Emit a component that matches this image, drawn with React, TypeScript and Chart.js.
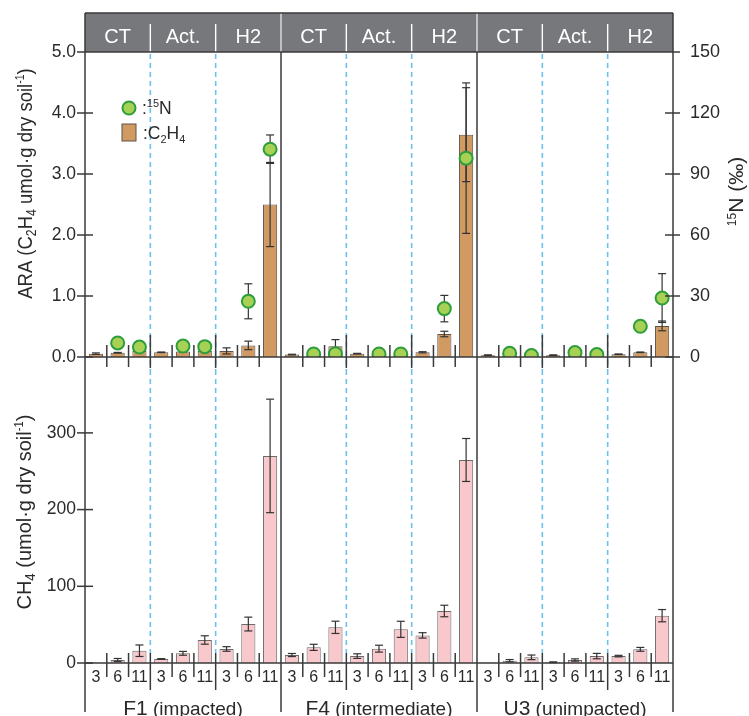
import React, { useEffect, useRef } from 'react';
import { Chart, registerables } from 'chart.js';

Chart.register(...registerables);

const FONT = '"Liberation Sans", Arial, Helvetica, sans-serif';

const sites = ['F1', 'F4', 'U3'];
const siteNotes = ['(impacted)', '(intermediate)', '(unimpacted)'];
const treatments = ['CT', 'Act.', 'H2'];
const weeks = ['3', '6', '11'];

const categories = sites.flatMap((s) => treatments.flatMap((t) => weeks.map((w) => `${s} ${t} ${w}`)));

// ARA (C2H4, umol/g dry soil) – bars, top panel, left axis
const araC2H4 = [
  0.055, 0.07, 0.1, 0.077, 0.09, 0.1, 0.1, 0.19, 2.5,
  0.04, 0.03, 0.175, 0.055, 0.03, 0.03, 0.077, 0.377, 3.645,
  0.03, 0.02, 0.02, 0.03, 0.02, 0.02, 0.045, 0.077, 0.51,
];
const araErr = [
  0.012, 0.005, 0.01, 0.005, 0.01, 0.01, 0.05, 0.07, 0.69,
  0.005, 0, 0.11, 0.005, 0, 0, 0.01, 0.045, 0.77,
  0.005, 0, 0, 0.005, 0, 0, 0.005, 0.005, 0.08,
];
// 15N (per mil) – points, top panel, right axis
const n15: (number | null)[] = [
  null, 6.9, 4.9, null, 5.4, 5.1, null, 27.4, 102.2,
  null, 1.5, 1.6, null, 1.5, 1.5, null, 23.8, 97.8,
  null, 1.8, 0.7, null, 2.2, 1.2, null, 15.1, 29.0,
];
const n15Err = [
  0, 0, 0, 0, 0, 0, 0, 8.6, 7,
  0, 0, 0, 0, 0, 0, 0, 6.5, 37,
  0, 0, 0, 0, 0, 0, 0, 0, 12,
];
// CH4 (umol/g dry soil) – bars, bottom panel
const ch4 = [
  0.3, 3.9, 16, 5.2, 12.6, 30, 18.3, 50.8, 270,
  10.4, 20.4, 46.5, 9, 18.7, 43.9, 36, 67.8, 264.7,
  0.5, 3, 7.4, 1, 3.9, 9, 9, 17.8, 61.7,
];
const ch4Err = [
  0, 2, 7.5, 0.5, 2.5, 5.5, 3, 9, 74,
  2, 4, 8, 3, 4.5, 10.5, 3.5, 7.5, 28,
  0, 1.5, 3, 0.5, 1.5, 3.5, 1, 2.5, 8,
];
const araTicks = [0, 1, 2, 3, 4, 5];
const n15Ticks = [0, 30, 60, 90, 120, 150];
const ch4Ticks = [0, 100, 200, 300];

const DARK = '#3a3a3a';
const DASH = '#6cc0ec';
const TAN = '#d09a62';
const TAN_BORDER = '#5e5248';
const PINK = '#f8c8cc';
const PINK_BORDER = '#6a6a6a';
const PT_FILL = '#a6d155';
const PT_BORDER = '#2e9e3c';
const HEADER = '#77787b';

type Seg = { t: string; size: number; dy?: number; weight?: string };

function drawRich(ctx: CanvasRenderingContext2D, segs: Seg[], x: number, y: number, align: 'left' | 'center') {
  const widths = segs.map((s) => {
    ctx.font = `${s.weight || 'normal'} ${s.size}px ${FONT}`;
    return ctx.measureText(s.t).width;
  });
  const total = widths.reduce((a, b) => a + b, 0);
  let cx = align === 'center' ? x - total / 2 : x;
  ctx.textAlign = 'left';
  ctx.textBaseline = 'alphabetic';
  segs.forEach((s, i) => {
    ctx.font = `${s.weight || 'normal'} ${s.size}px ${FONT}`;
    ctx.fillText(s.t, cx, y + (s.dy || 0));
    cx += widths[i];
  });
}

function drawRotated(ctx: CanvasRenderingContext2D, segs: Seg[], cx: number, cy: number, sx: number, base: number) {
  ctx.save();
  ctx.translate(cx, cy);
  ctx.rotate(-Math.PI / 2);
  ctx.scale(sx, 1);
  ctx.fillStyle = '#2a2a2a';
  drawRich(ctx, segs, 0, base, 'center');
  ctx.restore();
}

function seg(ctx: CanvasRenderingContext2D, x1: number, y1: number, x2: number, y2: number, color: string, w: number, dash: number[] = []) {
  ctx.save();
  ctx.strokeStyle = color;
  ctx.lineWidth = w;
  ctx.setLineDash(dash);
  ctx.beginPath();
  ctx.moveTo(x1, y1);
  ctx.lineTo(x2, y2);
  ctx.stroke();
  ctx.restore();
}

const bnd = (chart: any, k: number) => chart.scales.x.getPixelForValue(k - 0.5);

function drawErrors(chart: any, values: (number | null)[], errs: number[], axisId: string) {
  const { ctx } = chart;
  const ys = chart.scales[axisId];
  const xs = chart.scales.x;
  values.forEach((v, i) => {
    const e = errs[i];
    if (v == null || !e) return;
    const x = xs.getPixelForValue(i);
    const yHi = ys.getPixelForValue(v + e);
    const yLo = ys.getPixelForValue(Math.max(v - e, 0));
    seg(ctx, x, yHi, x, yLo, '#333', 1.2);
    seg(ctx, x - 4, yHi, x + 4, yHi, '#333', 1.2);
    seg(ctx, x - 4, yLo, x + 4, yLo, '#333', 1.2);
  });
}

const topPlugin = {
  id: 'topDecor',
  beforeDatasetsDraw(chart: any) {
    const { chartArea: ca } = chart;
    for (let k = 3; k < 27; k += 3) {
      if (k % 9 === 0) continue;
      const x = bnd(chart, k);
      seg(chart.ctx, x, ca.top + 2, x, chart.height, DASH, 1.6, [5, 4]);
    }
  },
  afterDatasetDraw(chart: any, args: any) {
    if (args.index === 0) drawErrors(chart, araC2H4, araErr, 'y');
  },
  beforeDatasetDraw(chart: any, args: any) {
    if (args.index === 1) drawErrors(chart, n15, n15Err, 'yR');
  },
  afterDraw(chart: any) {
    const { ctx, chartArea: ca } = chart;
    const L = bnd(chart, 0);
    const R = bnd(chart, 27);
    const hTop = 13;
    // header
    ctx.save();
    ctx.fillStyle = HEADER;
    ctx.fillRect(L, hTop, R - L, ca.top - hTop);
    ctx.fillStyle = '#ffffff';
    ctx.font = `20px ${FONT}`;
    ctx.textAlign = 'center';
    ctx.textBaseline = 'alphabetic';
    for (let g = 0; g < 9; g++) {
      const cx = (bnd(chart, g * 3) + bnd(chart, g * 3 + 3)) / 2;
      ctx.fillText(treatments[g % 3], cx, 43);
    }
    ctx.restore();
    for (let k = 3; k < 27; k += 3) {
      const x = bnd(chart, k);
      if (k % 9 === 0) seg(ctx, x, hTop, x, ca.top, '#d4d4d4', 1.6);
      else seg(ctx, x, 24, x, ca.top, '#ffffff', 1.4);
    }
    seg(ctx, L, hTop, R, hTop, DARK, 1.5);
    seg(ctx, L, ca.top, R, ca.top, DARK, 1.5);
    // frame
    seg(ctx, L, hTop, L, chart.height, DARK, 1.5);
    seg(ctx, R, hTop, R, chart.height, DARK, 1.5);
    for (const k of [9, 18]) {
      const x = bnd(chart, k);
      seg(ctx, x, ca.top, x, chart.height, DARK, 1.5);
    }
    // x axis + separators
    const y0 = chart.scales.y.getPixelForValue(0);
    seg(ctx, L, y0, R, y0, DARK, 1.5);
    for (let k = 1; k < 27; k++) {
      if (k % 9 === 0) continue;
      const x = bnd(chart, k);
      if (k % 3 === 0) seg(ctx, x, y0 - 22, x, y0 + 11, DARK, 1.5);
      else seg(ctx, x, y0 - 12, x, y0 + 10, DARK, 1.5);
    }
    // tick marks
    araTicks.forEach((v) => {
      const y = chart.scales.y.getPixelForValue(v);
      seg(ctx, L - 8, y, v === 5 ? L : L + 8, y, DARK, 1.5);
    });
    n15Ticks.forEach((v) => {
      const y = chart.scales.yR.getPixelForValue(v);
      seg(ctx, v === 150 ? R : R - 8, y, R + 7, y, DARK, 1.5);
    });
    // legend
    ctx.save();
    ctx.beginPath();
    ctx.arc(129, 108, 6.5, 0, Math.PI * 2);
    ctx.fillStyle = PT_FILL;
    ctx.fill();
    ctx.lineWidth = 2;
    ctx.strokeStyle = PT_BORDER;
    ctx.stroke();
    ctx.fillStyle = TAN;
    ctx.fillRect(122, 124, 14, 17);
    ctx.lineWidth = 1;
    ctx.strokeStyle = TAN_BORDER;
    ctx.strokeRect(122, 124, 14, 17);
    ctx.fillStyle = '#2a2a2a';
    drawRich(ctx, [{ t: ':', size: 17.5 }, { t: '15', size: 11, dy: -7 }, { t: 'N', size: 17.5 }], 142, 113.5, 'left');
    drawRich(ctx, [{ t: ':C', size: 17.5 }, { t: '2', size: 11, dy: 4 }, { t: 'H', size: 17.5 }, { t: '4', size: 11, dy: 4 }], 143, 138.5, 'left');
    ctx.restore();
    // axis titles
    drawRotated(ctx, [
      { t: 'ARA (C', size: 21 }, { t: '2', size: 14, dy: 4 }, { t: 'H', size: 21 }, { t: '4', size: 14, dy: 4 },
      { t: ' umol·g dry soil', size: 21 }, { t: '-1', size: 12, dy: -8 }, { t: ')', size: 21 },
    ], 24, 183.5, 0.88, 7.5);
    drawRotated(ctx, [
      { t: '15', size: 12, dy: -7 }, { t: 'N', size: 21 }, { t: ' (‰)', size: 21 },
    ], 735, 191.5, 1, 7.5);
  },
};

const bottomPlugin = {
  id: 'bottomDecor',
  beforeDatasetsDraw(chart: any) {
    const y0 = chart.scales.y.getPixelForValue(0);
    for (let k = 3; k < 27; k += 3) {
      if (k % 9 === 0) continue;
      const x = bnd(chart, k);
      seg(chart.ctx, x, 0, x, y0 - 10, DASH, 1.6, [5, 4]);
    }
  },
  afterDatasetDraw(chart: any, args: any) {
    if (args.index === 0) drawErrors(chart, ch4, ch4Err, 'y');
  },
  afterDraw(chart: any) {
    const { ctx } = chart;
    const L = bnd(chart, 0);
    const R = bnd(chart, 27);
    const bottom = 342;
    seg(ctx, L, 0, L, bottom, DARK, 1.5);
    seg(ctx, R, 0, R, bottom, DARK, 1.5);
    for (const k of [9, 18]) {
      const x = bnd(chart, k);
      seg(ctx, x, 0, x, bottom, DARK, 1.5);
    }
    const y0 = chart.scales.y.getPixelForValue(0);
    seg(ctx, L, y0, R, y0, DARK, 1.5);
    for (let k = 1; k < 27; k++) {
      if (k % 9 === 0) continue;
      const x = bnd(chart, k);
      if (k % 3 === 0) seg(ctx, x, y0 - 10, x, y0 + 27, DARK, 1.5);
      else seg(ctx, x, y0 - 10, x, y0 + 14, DARK, 1.5);
    }
    ch4Ticks.forEach((v) => {
      const y = chart.scales.y.getPixelForValue(v);
      seg(ctx, L - 8, y, L + 8, y, DARK, 1.5);
    });
    ctx.save();
    ctx.fillStyle = '#2a2a2a';
    ctx.font = `16px ${FONT}`;
    ctx.textAlign = 'center';
    ctx.textBaseline = 'alphabetic';
    for (let i = 0; i < 27; i++) {
      ctx.fillText(weeks[i % 3], chart.scales.x.getPixelForValue(i), y0 + 18.5);
    }
    for (let p = 0; p < 3; p++) {
      const cx = (bnd(chart, p * 9) + bnd(chart, p * 9 + 9)) / 2;
      drawRich(ctx, [{ t: sites[p], size: 21 }, { t: ' ' + siteNotes[p], size: 19 }], cx, 345, 'center');
    }
    ctx.restore();
    drawRotated(ctx, [
      { t: 'CH', size: 21 }, { t: '4', size: 14, dy: 4 }, { t: ' (umol·g dry soil', size: 21 },
      { t: '-1', size: 12, dy: -8 }, { t: ')', size: 21 },
    ], 23, 142, 0.95, 7.5);
  },
};

const fixV = (w: number) => (s: any) => {
  s.width = w;
  s.paddingTop = 0;
  s.paddingBottom = 0;
};

export default function App() {
  const topRef = useRef<HTMLCanvasElement>(null);
  const botRef = useRef<HTMLCanvasElement>(null);

  useEffect(() => {
    const tickFont = { family: FONT, size: 17.5 };
    const xScale = {
      type: 'category' as const,
      display: false,
      offset: true,
      grid: { display: false },
    };
    const top = new Chart(topRef.current!, {
      type: 'bar',
      data: {
        labels: categories,
        datasets: [
          {
            type: 'bar',
            label: 'C2H4',
            data: araC2H4,
            yAxisID: 'y',
            order: 2,
            backgroundColor: TAN,
            borderColor: TAN_BORDER,
            borderWidth: 1,
            barPercentage: 0.65,
            categoryPercentage: 1,
          },
          {
            type: 'line',
            label: '15N',
            data: n15,
            yAxisID: 'yR',
            order: 1,
            showLine: false,
            pointRadius: 6.5,
            pointHoverRadius: 6.5,
            pointBackgroundColor: PT_FILL,
            pointBorderColor: PT_BORDER,
            pointBorderWidth: 2,
          } as any,
        ],
      },
      options: {
        responsive: false,
        animation: false,
        events: [],
        layout: { padding: { top: 52, bottom: 13, left: 0, right: 0 } },
        plugins: { legend: { display: false }, tooltip: { enabled: false } },
        scales: {
          x: xScale,
          y: {
            position: 'left',
            min: 0,
            max: 5,
            afterBuildTicks: (axis: any) => { axis.ticks = araTicks.map((v) => ({ value: v })); },
            afterFit: fixV(85),
            grid: { display: false, drawTicks: false },
            border: { display: false },
            ticks: { padding: 9, color: '#2a2a2a', font: tickFont, callback: (v: any) => Number(v).toFixed(1) },
          },
          yR: {
            position: 'right',
            min: 0,
            max: 150,
            afterBuildTicks: (axis: any) => { axis.ticks = n15Ticks.map((v) => ({ value: v })); },
            afterFit: fixV(76),
            grid: { display: false, drawTicks: false },
            border: { display: false },
            ticks: { padding: 17, color: '#2a2a2a', font: { family: FONT, size: 18 } },
          },
        },
      } as any,
      plugins: [topPlugin],
    });

    const bot = new Chart(botRef.current!, {
      type: 'bar',
      data: {
        labels: categories,
        datasets: [
          {
            label: 'CH4',
            data: ch4,
            yAxisID: 'y',
            backgroundColor: PINK,
            borderColor: PINK_BORDER,
            borderWidth: 1,
            barPercentage: 0.65,
            categoryPercentage: 1,
          },
        ],
      },
      options: {
        responsive: false,
        animation: false,
        events: [],
        layout: { padding: { top: 0, bottom: 53, left: 0, right: 76 } },
        plugins: { legend: { display: false }, tooltip: { enabled: false } },
        scales: {
          x: xScale,
          y: {
            position: 'left',
            min: 0,
            max: 382,
            afterBuildTicks: (axis: any) => { axis.ticks = ch4Ticks.map((v) => ({ value: v })); },
            afterFit: fixV(85),
            grid: { display: false, drawTicks: false },
            border: { display: false },
            ticks: { padding: 9, color: '#2a2a2a', font: tickFont },
          },
        },
      } as any,
      plugins: [bottomPlugin],
    });

    return () => {
      top.destroy();
      bot.destroy();
    };
  }, []);

  return (
    <div style={{ position: 'fixed', left: 0, top: 0, width: 749, height: 716, background: '#ffffff' }}>
      <canvas ref={topRef} width={749} height={370} style={{ position: 'absolute', left: 0, top: 0, width: 749, height: 370 }} />
      <canvas ref={botRef} width={749} height={346} style={{ position: 'absolute', left: 0, top: 370, width: 749, height: 346 }} />
    </div>
  );
}
